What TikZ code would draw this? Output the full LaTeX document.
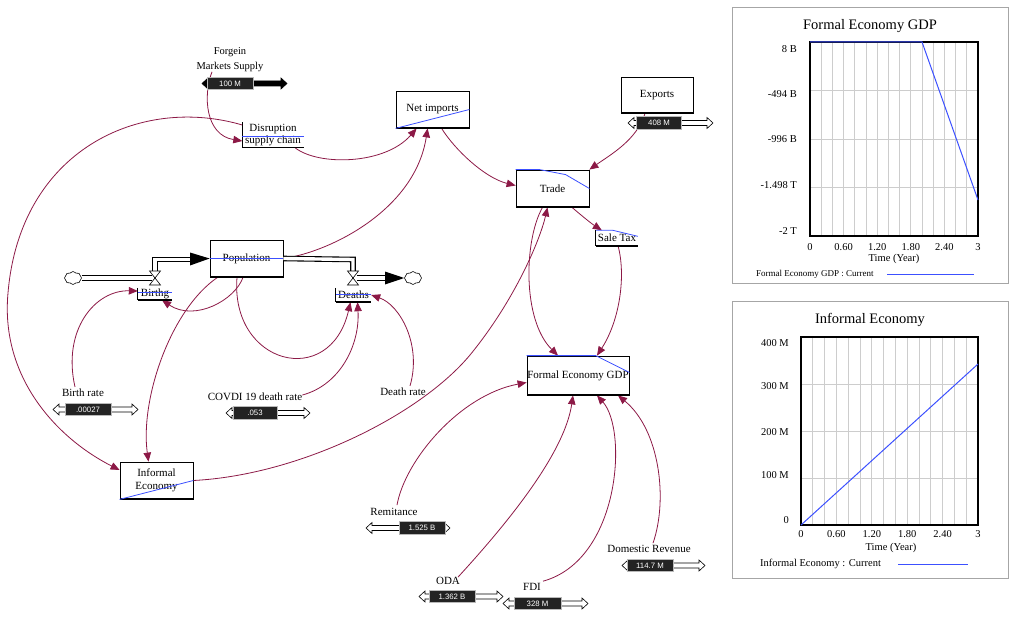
\documentclass[tikz,border=0pt]{standalone}
\usepackage{fontspec}
\setmainfont{Liberation Serif}
\newfontfamily\slfont{Liberation Sans}
\usetikzlibrary{arrows.meta,shapes.symbols,backgrounds,calc}
\definecolor{linkc}{RGB}{140,25,70}
\definecolor{bl}{RGB}{60,80,255}
\definecolor{grd}{RGB}{205,205,205}
\definecolor{hdl}{RGB}{35,35,35}
\newcommand\mkslider[8]{%
 \draw[line width=0.6pt, fill=#8] (#3,#2) -- ({#3+6},{#2-5.5}) -- ({#3+6},{#2-2.5}) -- ({#4-6},{#2-2.5}) -- ({#4-6},{#2-5.5}) -- (#4,#2) -- ({#4-6},{#2+5.5}) -- ({#4-6},{#2+2.5}) -- ({#3+6},{#2+2.5}) -- ({#3+6},{#2+5.5}) -- cycle;
 \node[handle, minimum width=#6] (#1) at (#5,#2) {#7};
}
\begin{document}
\begin{tikzpicture}[x=1pt,y=-1pt,
  stock/.style={draw=black, line width=0.8pt, fill=white, inner sep=0pt, align=center,
     font=\fontsize{11}{13}\selectfont,
     path picture={\draw[line width=2.4pt] (path picture bounding box.south west) -- (path picture bounding box.south east);}},
  auxl/.style={inner sep=0pt, align=center, font=\fontsize{11}{11.5}\selectfont},
  auxline/.style={line width=0.7pt},
  auxbase/.style={line width=1.6pt},
  lbl/.style={inner sep=0pt, font=\fontsize{11}{13}\selectfont},
  handle/.style={fill=hdl, draw=gray!55, line width=0.8pt, minimum height=12.5pt, inner sep=0pt, text=white, font=\slfont\fontsize{7.8}{8}\selectfont},
  link/.style={draw=linkc, line width=0.8pt, -{Triangle[length=9pt,width=7.5pt]}},
  pipe/.style={draw=black, line width=5.6pt, postaction={draw=white, line width=3.4pt}},
  blueln/.style={draw=bl, line width=0.8pt},
  cloudn/.style={cloud, draw, cloud puffs=8, cloud puff arc=110, minimum width=17pt, minimum height=13pt, inner sep=0pt, fill=white, line width=0.6pt, aspect=1.4},
  axlbl/.style={inner sep=0pt, font=\fontsize{10.5}{12}\selectfont},
  gridln/.style={draw=grd, line width=0.9pt}
]
\useasboundingbox (0,0) rectangle (1024,628);

% ---------- stocks / converters ----------
\node[stock, minimum width=73pt, minimum height=37pt] (netimp) at (432.5,109.5) {Net imports};
\node[stock, minimum width=72pt, minimum height=36pt] (exports) at (657,95) {Exports};
\node[stock, minimum width=73pt, minimum height=37pt] (trade) at (552.5,188.5) {Trade};
\node[stock, minimum width=102pt, minimum height=39pt] (fegdp) at (578,375.5) {Formal Economy GDP};
\node[stock, minimum width=73pt, minimum height=37pt] (pop) at (246.5,258.5) {Population};
\node[stock, minimum width=73pt, minimum height=37pt] (inf) at (156.5,480.5) {Informal\\Economy};

\draw[blueln] (netimp.south west) -- (netimp.east);
\draw[blueln] (trade.north west) -- ++(24,0) -- ++(26,5) -- (trade.east);
\draw[blueln] (fegdp.north west) -- ++(69,0) -- ([yshift=3pt]fegdp.east);
\draw[blueln] (pop.west) -- (pop.east);
\draw[blueln] (inf.south west) -- (inf.east);

% ---------- auxiliaries ----------
\node[auxl, minimum width=61pt, minimum height=25pt] (dsc) at (273,135) {Disruption\\supply chain};
\draw[auxline] (dsc.north west) -- (dsc.south west);
\draw[auxbase] (dsc.south west) -- (dsc.south east);
\draw[blueln] ([yshift=-1pt]dsc.west) -- ++(62,0);

\node[auxl, minimum width=42pt, minimum height=15pt] (st) at (617,238) {Sale Tax};
\draw[auxline] (st.north west) -- (st.south west);
\draw[auxbase] (st.south west) -- (st.south east);
\draw[blueln] (st.north west) -- ++(17,0) -- ++(25,6);

\node[auxl, minimum width=34pt, minimum height=12pt] (births) at (155,294) {Birthg};
\draw[auxline] (births.north west) -- (births.south west);
\draw[auxbase] (births.south west) -- (births.south east);
\draw[blueln] ([yshift=2pt]births.west) -- ([yshift=2pt]births.east);

\node[auxl, minimum width=35pt, minimum height=14pt] (deaths) at (353.5,295) {Deaths};
\draw[auxline] (deaths.north west) -- (deaths.south west);
\draw[auxbase] (deaths.south west) -- (deaths.south east);
\draw[blueln] ([yshift=1pt]deaths.west) -- ([yshift=1pt]deaths.east);

% ---------- labels ----------
\node[lbl, align=center, font=\fontsize{10.5}{15}\selectfont] (fms) at (230,59.5) {Forgein\\Markets Supply};
\node[lbl] (brl) at (83,393) {Birth rate};
\node[lbl] (cvl) at (255,397) {COVDI 19 death rate};
\node[lbl] (drl) at (403,392) {Death rate};
\node[lbl] (reml) at (394,512) {Remitance};
\node[lbl] (odal) at (448,581) {ODA};
\node[lbl] (fdil) at (532,587) {FDI};
\node[lbl] (domrl) at (649,549) {Domestic Revenue};

% ---------- pipes, valves, clouds ----------
\node[cloudn] (src) at (73,278) {};
\node[cloudn] (snk) at (413,278) {};
\draw[pipe] (src.east) -- (152,278);
\draw[pipe] (155,272) -- (155,259.5) -- (192,259.5);
\fill (190,252.5) -- (pop.west) -- (190,265.5) -- cycle;
\draw[line width=0.6pt, fill=white] (149.5,271) -- (160.5,271) -- (149.5,285) -- (160.5,285) -- cycle;
\draw[pipe] (pop.east) -- (353,259.5) -- (353,272);
\draw[pipe] (357,278) -- (387,278);
\fill (385,271.5) -- (snk.west) -- (385,284.5) -- cycle;
\draw[line width=0.6pt, fill=white] (347.5,271) -- (358.5,271) -- (347.5,285) -- (358.5,285) -- cycle;

% ---------- connectors ----------
\begin{scope}[on background layer]
\draw[link] ([xshift=-18pt]fms.south) .. controls (203,95) and (205,135) .. ([yshift=-6pt]dsc.west);
\draw[link] ([xshift=22pt]dsc.south) .. controls (318,166) and (385,165) .. ([xshift=21pt]netimp.south west);
\draw[link] (pop.east) .. controls (330,252) and (415,210) .. ([xshift=32pt]netimp.south west);
\draw[link] ([xshift=46pt]netimp.south west) .. controls (455,150) and (485,178) .. ([yshift=3pt]trade.west);
\draw[link] ([xshift=-12pt]exports.south) .. controls (637,140) and (610,155) .. (trade.north east);
\draw[link] ([xshift=19.5pt]trade.south) .. controls (582,216) and (592,224) .. ([xshift=6pt]st.north west);
\draw[link] ([xshift=-10pt]trade.south) .. controls (524,240) and (522,320) .. ([xshift=-20pt]fegdp.north);
\draw[link] (inf.east) .. controls (300,475) and (420,415) .. (470,355) .. controls (515,300) and (540,240) .. ([xshift=-5pt]trade.south);
\draw[link] ([xshift=1pt]st.south) .. controls (626,275) and (620,320) .. ([xshift=19pt]fegdp.north);
\draw[link] ([xshift=3pt,yshift=3pt]reml.north) .. controls (405,460) and (460,395) .. ([yshift=-7pt]fegdp.west);
\draw[link] ([xshift=10pt]odal.north) .. controls (515,515) and (565,450) .. ([xshift=-5pt]fegdp.south);
\draw[link] ([xshift=11pt,yshift=2pt]fdil.north) .. controls (620,560) and (628,430) .. ([xshift=19pt]fegdp.south);
\draw[link] ([xshift=4pt,yshift=2pt]domrl.north) .. controls (668,500) and (660,430) .. ([xshift=40pt]fegdp.south);
\draw[link] ([xshift=-3.5pt]pop.south) .. controls (235,300) and (195,322) .. ([xshift=7pt]births.south);
\draw[link] ([xshift=-8pt,yshift=2pt]brl.north) .. controls (62,330) and (95,290) .. ([yshift=3pt]births.west);
\draw[link] ([xshift=-29pt]pop.south) .. controls (170,310) and (140,400) .. ([xshift=-8pt]inf.north);
\draw[link] ([xshift=-9.5pt]pop.south) .. controls (230,365) and (330,390) .. ([xshift=-3pt]deaths.south);
\draw[link] ([yshift=2pt]cvl.east) .. controls (340,385) and (360,345) .. ([xshift=4pt]deaths.south);
\draw[link] ([xshift=7pt,yshift=2pt]drl.north) .. controls (422,345) and (400,305) .. (deaths.east);
\draw[link] ([yshift=10pt]dsc.west) .. controls (140,95) and (20,150) .. (8,293) .. controls (0,380) and (60,440) .. ([yshift=10.5pt]inf.west);
\end{scope}

% ---------- sliders ----------
\mkslider{fmsS}{83.5}{202}{287}{230}{46}{100 M}{black}
\mkslider{expS}{123}{628}{713}{659}{45}{408 M}{white}
\mkslider{brS}{409.5}{53}{138}{88}{46}{.00027}{white}
\mkslider{cvS}{413}{226}{310}{255}{44}{.053}{white}
\mkslider{remS}{528}{366}{450}{422}{46}{1.525 B}{white}
\mkslider{odaS}{596.5}{419}{503}{452}{46}{1.362 B}{white}
\mkslider{fdiS}{603.5}{503}{588}{537.5}{47}{328 M}{white}
\mkslider{drS}{565.5}{622}{705}{650}{46}{114.7 M}{white}

% ---------- graph 1 ----------
\draw[gray!70, line width=0.6pt] (732,7) rectangle (1008,283);
\node[inner sep=0pt, font=\fontsize{14.5}{16}\selectfont] (g1t) at (870,26) {Formal Economy GDP};
\foreach \i in {1,...,14} \draw[gridln] ({810+\i*11.2},42) -- ({810+\i*11.2},236);
\foreach \j in {1,2,3} \draw[gridln] (810,{42+\j*48.5}) -- (978,{42+\j*48.5});
\draw[line width=1.6pt] (810,42) rectangle (978,236);
\draw[bl, line width=1pt] (810,42) -- (922,42) -- (978,200);
\node[axlbl, anchor=east] at (797,49) {8 B};
\node[axlbl, anchor=east] at (797,94) {-494 B};
\node[axlbl, anchor=east] at (797,139.5) {-996 B};
\node[axlbl, anchor=east] at (797,185) {-1.498 T};
\node[axlbl, anchor=east] at (797,231) {-2 T};
\foreach \v/\k in {0/0,0.60/3,1.20/6,1.80/9,2.40/12,3/15} \node[axlbl] at ({810+\k*11.2},247) {\v};
\node[axlbl] at (894,259) {Time (Year)};
\node[inner sep=0pt, anchor=west, font=\fontsize{9}{10}\selectfont] at (756,274) {Formal Economy GDP : Current};
\draw[bl, line width=0.9pt] (887,274) -- (974,274);

% ---------- graph 2 ----------
\draw[gray!70, line width=0.6pt] (732,301) rectangle (1008,578);
\node[inner sep=0pt, font=\fontsize{14.5}{16}\selectfont] (g2t) at (870,320) {Informal Economy};
\foreach \i in {1,...,14} \draw[gridln] ({801+\i*11.8},337) -- ({801+\i*11.8},525);
\foreach \j in {1,2,3} \draw[gridln] (801,{337+\j*47}) -- (978,{337+\j*47});
\draw[line width=1.6pt] (801,337) rectangle (978,525);
\draw[bl, line width=1pt] (801,525) -- (978,364);
\node[axlbl, anchor=east] at (789,343) {400 M};
\node[axlbl, anchor=east] at (789,386) {300 M};
\node[axlbl, anchor=east] at (789,432) {200 M};
\node[axlbl, anchor=east] at (789,475) {100 M};
\node[axlbl, anchor=east] at (789,520) {0};
\foreach \v/\k in {0/0,0.60/3,1.20/6,1.80/9,2.40/12,3/15} \node[axlbl] at ({801+\k*11.8},534) {\v};
\node[axlbl] at (891,548) {Time (Year)};
\node[inner sep=0pt, anchor=west, font=\fontsize{10.5}{12}\selectfont] at (760,564) {Informal Economy : Current};
\draw[bl, line width=0.9pt] (898,564) -- (968,564);
\end{tikzpicture}
\end{document}
